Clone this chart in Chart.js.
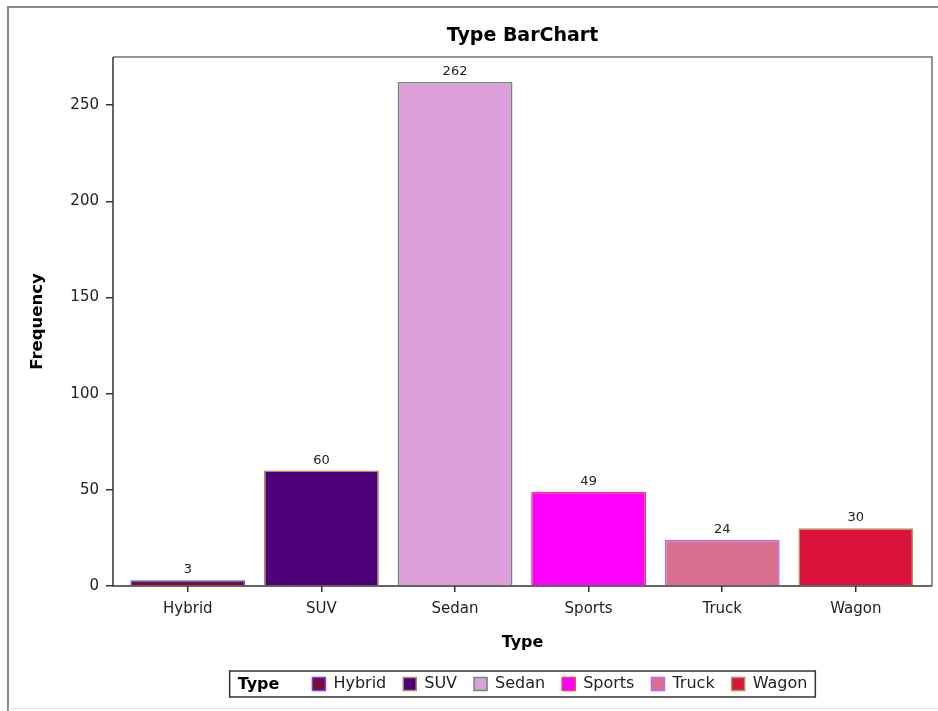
<!DOCTYPE html>
<html><head><meta charset="utf-8">
<script src="https://cdn.jsdelivr.net/npm/chart.js@4.4.0/dist/chart.umd.min.js"></script>
<style>html,body{margin:0;padding:0;background:#fff;}canvas{display:block;}</style>
</head><body>
<canvas id="c" width="938" height="711"></canvas>
<script>
const categories = ['Hybrid', 'SUV', 'Sedan', 'Sports', 'Truck', 'Wagon'];
const frequencies = [3, 60, 262, 49, 24, 30];
const fillColors = ['#7d0a33', '#4b0078', '#dc9fdc', '#ff00ff', '#da7090', '#dc143c'];
const borderColors = ['#5a4cf0', '#b88860', '#6a8a78', '#e84060', '#b868f0', '#a89858'];
const yTicks = [0, 50, 100, 150, 200, 250];
const chartTitle = 'Type BarChart';
const xTitle = 'Type';
const yTitle = 'Frequency';
const legendTitle = 'Type';

const FONT = "'DejaVu Sans', sans-serif";

const framePlugin = {
  id: 'frames',
  afterLayout(chart) {
    const ca = chart.chartArea;
    if (chart.legend) { chart.legend.left = ca.left; chart.legend.right = ca.right; chart.legend.width = ca.right - ca.left; }
    if (chart.titleBlock) { chart.titleBlock.left = ca.left; chart.titleBlock.right = ca.right; chart.titleBlock.width = ca.right - ca.left; }
  },
  beforeDraw(chart) {
    const ctx = chart.ctx;
    ctx.save();
    ctx.fillStyle = '#fff';
    ctx.fillRect(0, 0, chart.width, chart.height);
    ctx.strokeStyle = '#8a8a8a';
    ctx.lineWidth = 2;
    ctx.beginPath();
    ctx.moveTo(8, 711); ctx.lineTo(8, 7); ctx.lineTo(938, 7);
    ctx.stroke();
    ctx.strokeStyle = '#e2e2e2';
    ctx.lineWidth = 1;
    ctx.beginPath(); ctx.moveTo(8, 708.5); ctx.lineTo(938, 708.5); ctx.stroke();
    ctx.restore();
  },
  afterDatasetsDraw(chart) {
    const ctx = chart.ctx;
    const ca = chart.chartArea;
    ctx.save();
    ctx.lineWidth = 1.5;
    ctx.strokeStyle = '#707070';
    ctx.beginPath();
    ctx.moveTo(ca.left, ca.top); ctx.lineTo(ca.right, ca.top); ctx.lineTo(ca.right, ca.bottom);
    ctx.stroke();
    ctx.strokeStyle = '#333';
    ctx.beginPath();
    ctx.moveTo(ca.left, ca.top); ctx.lineTo(ca.left, ca.bottom); ctx.lineTo(ca.right, ca.bottom);
    ctx.stroke();
    // value labels
    const meta = chart.getDatasetMeta(0);
    ctx.fillStyle = '#222';
    ctx.font = '13px ' + FONT;
    ctx.textAlign = 'center';
    ctx.textBaseline = 'alphabetic';
    meta.data.forEach((bar, i) => {
      ctx.fillText(String(frequencies[i]), bar.x, bar.y - 7);
    });
    ctx.restore();
  },
  afterDraw(chart) {
    const lg = chart.legend;
    if (!lg || !lg.legendHitBoxes || !lg.legendHitBoxes.length) return;
    const hb = lg.legendHitBoxes;
    const first = hb[0], last = hb[hb.length - 1];
    const ctx = chart.ctx;
    ctx.save();
    const cy = first.top + first.height / 2;
    ctx.font = 'bold 16px ' + FONT;
    ctx.fillStyle = '#000';
    ctx.textAlign = 'left';
    ctx.textBaseline = 'middle';
    ctx.fillText(legendTitle, first.left, cy + 1);
    ctx.strokeStyle = '#333';
    ctx.lineWidth = 1.5;
    const l = first.left - 8, r = last.left + last.width + 8;
    ctx.strokeRect(l, cy - 13, r - l, 26);
    ctx.restore();
  }
};

new Chart(document.getElementById('c'), {
  type: 'bar',
  data: {
    datasets: [{
      label: xTitle,
      data: frequencies.map((v, i) => ({x: i, y: v})),
      backgroundColor: fillColors,
      borderColor: borderColors,
      borderWidth: 1.5,
      categoryPercentage: 1,
      barPercentage: 0.86
    }]
  },
  options: {
    responsive: false,
    devicePixelRatio: 1,
    animation: false,
    layout: {padding: {left: 0, right: 6, top: 0, bottom: 9}},
    scales: {
      x: {
        type: 'linear',
        offset: false,
        min: -0.56,
        max: 5.57,
        afterBuildTicks: s => { s.ticks = categories.map((_, i) => ({value: i})); },
        afterFit: s => { s.height = 73; },
        ticks: {
          callback: v => categories[v],
          autoSkip: false, maxRotation: 0, minRotation: 0,
          font: {family: FONT, size: 15}, color: '#222', padding: 8
        },
        grid: {offset: false, drawOnChartArea: false, drawTicks: true, tickLength: 6, color: '#333', lineWidth: 1.5},
        border: {display: false},
        title: {display: true, text: xTitle, font: {family: FONT, size: 16, weight: 'bold'}, color: '#000', padding: {top: 0, bottom: 6.4}}
      },
      y: {
        min: 0,
        max: 275,
        afterBuildTicks: s => { s.ticks = yTicks.map(v => ({value: v})); },
        afterFit: s => { s.width = 113; },
        ticks: {font: {family: FONT, size: 15}, color: '#222', padding: 7},
        grid: {drawOnChartArea: false, drawTicks: true, tickLength: 7, color: '#333', lineWidth: 1.5},
        border: {display: false},
        title: {display: true, text: yTitle, font: {family: FONT, size: 16.5, weight: 'bold'}, color: '#000', padding: {top: 28, bottom: 0}}
      }
    },
    plugins: {
      title: {display: true, text: chartTitle, font: {family: FONT, size: 19, weight: 'bold'}, color: '#000', padding: {top: 25, bottom: 9.2}},
      tooltip: {enabled: false},
      legend: {
        position: 'bottom',
        labels: {
          font: {family: FONT, size: 16}, color: '#222',
          boxWidth: 13, boxHeight: 13, padding: 17,
          generateLabels: () => {
            const items = [{text: legendTitle, fillStyle: 'rgba(0,0,0,0)', strokeStyle: 'rgba(0,0,0,0)', lineWidth: 0, fontColor: 'rgba(0,0,0,0)', hidden: false, datasetIndex: 0}];
            categories.forEach((c, i) => items.push({text: c, fillStyle: fillColors[i], strokeStyle: borderColors[i], lineWidth: 1.5, fontColor: '#222', hidden: false, datasetIndex: 0}));
            return items;
          }
        }
      }
    }
  },
  plugins: [framePlugin]
});
</script>
</body></html>
